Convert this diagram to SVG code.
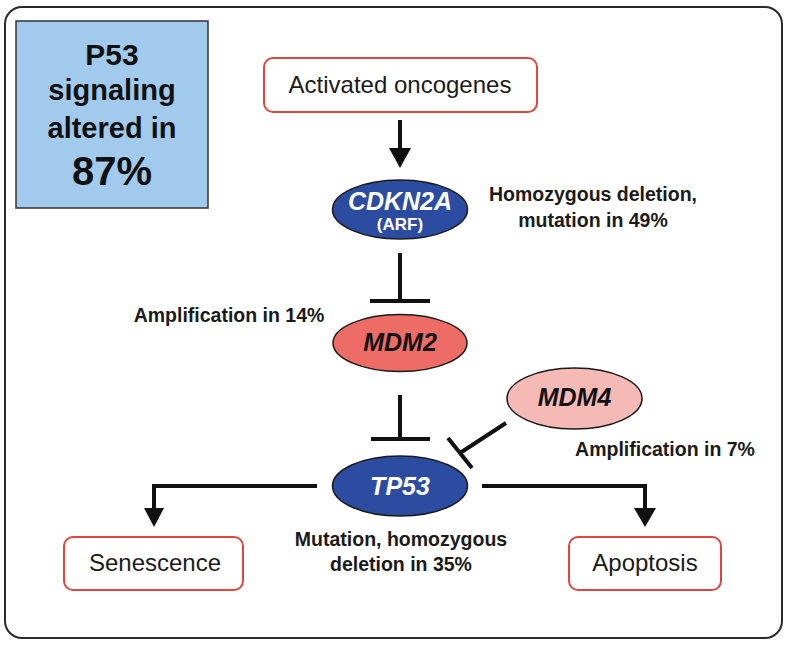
<svg xmlns="http://www.w3.org/2000/svg" width="789" height="654" viewBox="0 0 789 654">
<style>
.frame{fill:#fff;stroke:#2a2a2a;stroke-width:2}
.box{fill:#fff;stroke:#e0463f;stroke-width:2}
.lbl{font-family:"Liberation Sans",Arial,sans-serif;font-size:24px;fill:#1a1a1a;text-anchor:middle}
.note{font-family:"Liberation Sans",Arial,sans-serif;font-size:19.5px;font-weight:bold;fill:#1a1a1a;text-anchor:middle}
.gene{font-family:"Liberation Sans",Arial,sans-serif;font-weight:bold;font-style:italic;font-size:25px;text-anchor:middle}
.ell{stroke:#1a1a1a;stroke-width:1.5}
.con{fill:none;stroke:#111;stroke-width:4}
.big{font-family:"Liberation Sans",Arial,sans-serif;font-weight:bold;fill:#111;text-anchor:middle}
</style>
<defs>
<marker id="arr" markerWidth="6" markerHeight="5" refX="5.5" refY="2.5" orient="auto" markerUnits="strokeWidth">
<path d="M0,0 L6,2.5 L0,5 Z" fill="#111"/>
</marker>
</defs>
<rect class="frame" x="5" y="7" width="777" height="631" rx="17"/>
<g id="summary">
<rect x="16" y="21" width="192" height="187" fill="#a2caed" stroke="#333" stroke-width="1.5"/>
<text class="big" x="112" y="65" font-size="30">P53</text>
<text class="big" x="112" y="100" font-size="29">signaling</text>
<text class="big" x="112" y="138" font-size="29">altered in</text>
<text class="big" x="112" y="185" font-size="40">87%</text>
</g>
<g id="oncogenes">
<rect class="box" x="264" y="58" width="273" height="54" rx="9"/>
<text class="lbl" x="400" y="93">Activated oncogenes</text>
</g>
<g id="cdkn2a">
<ellipse class="ell" cx="400" cy="209.5" rx="67.5" ry="29.5" fill="#2c4ca1"/>
<text class="gene" x="400" y="210" fill="#fff">CDKN2A</text>
<text x="400" y="230" font-family="'Liberation Sans',Arial,sans-serif" font-weight="bold" font-size="17" fill="#fff" text-anchor="middle">(ARF)</text>
<text class="note" x="593" y="201">Homozygous deletion,</text>
<text class="note" x="593" y="227">mutation in 49%</text>
</g>
<g id="mdm2">
<ellipse class="ell" cx="400" cy="343" rx="67" ry="28.5" fill="#ee6c66"/>
<text class="gene" x="400" y="351" fill="#111">MDM2</text>
<text class="note" x="229" y="322">Amplification in 14%</text>
</g>
<g id="mdm4">
<ellipse class="ell" cx="574.5" cy="398.5" rx="67.5" ry="30.5" fill="#f5b9b6"/>
<text class="gene" x="574.5" y="406" fill="#111">MDM4</text>
<text class="note" x="665" y="456">Amplification in 7%</text>
</g>
<g id="tp53">
<ellipse class="ell" cx="400" cy="486" rx="67.5" ry="30" fill="#2c4ca1"/>
<text class="gene" x="400" y="495" fill="#fff">TP53</text>
<text class="note" x="401" y="546">Mutation, homozygous</text>
<text class="note" x="401" y="571">deletion in 35%</text>
</g>
<g id="senescence">
<rect class="box" x="64" y="537" width="179" height="53" rx="9"/>
<text class="lbl" x="155" y="571">Senescence</text>
</g>
<g id="apoptosis">
<rect class="box" x="569" y="537" width="152" height="53" rx="9"/>
<text class="lbl" x="645" y="571">Apoptosis</text>
</g>
<g id="connectors">
<path class="con" d="M400,120 V150"/>
<path d="M389,148 L411,148 L400,168 Z" fill="#111"/>
<path class="con" d="M400,253 V301 M370,301 H430"/>
<path class="con" d="M400,395 V439 M371,439 H430"/>
<path class="con" d="M506,423 L460,453 M448,438 L472,468"/>
<path class="con" d="M317,486 H154 V510"/>
<path d="M144,508 L164,508 L154,527 Z" fill="#111"/>
<path class="con" d="M482,486 H645 V510"/>
<path d="M634,508 L656,508 L645,527 Z" fill="#111"/>
</g>
</svg>
